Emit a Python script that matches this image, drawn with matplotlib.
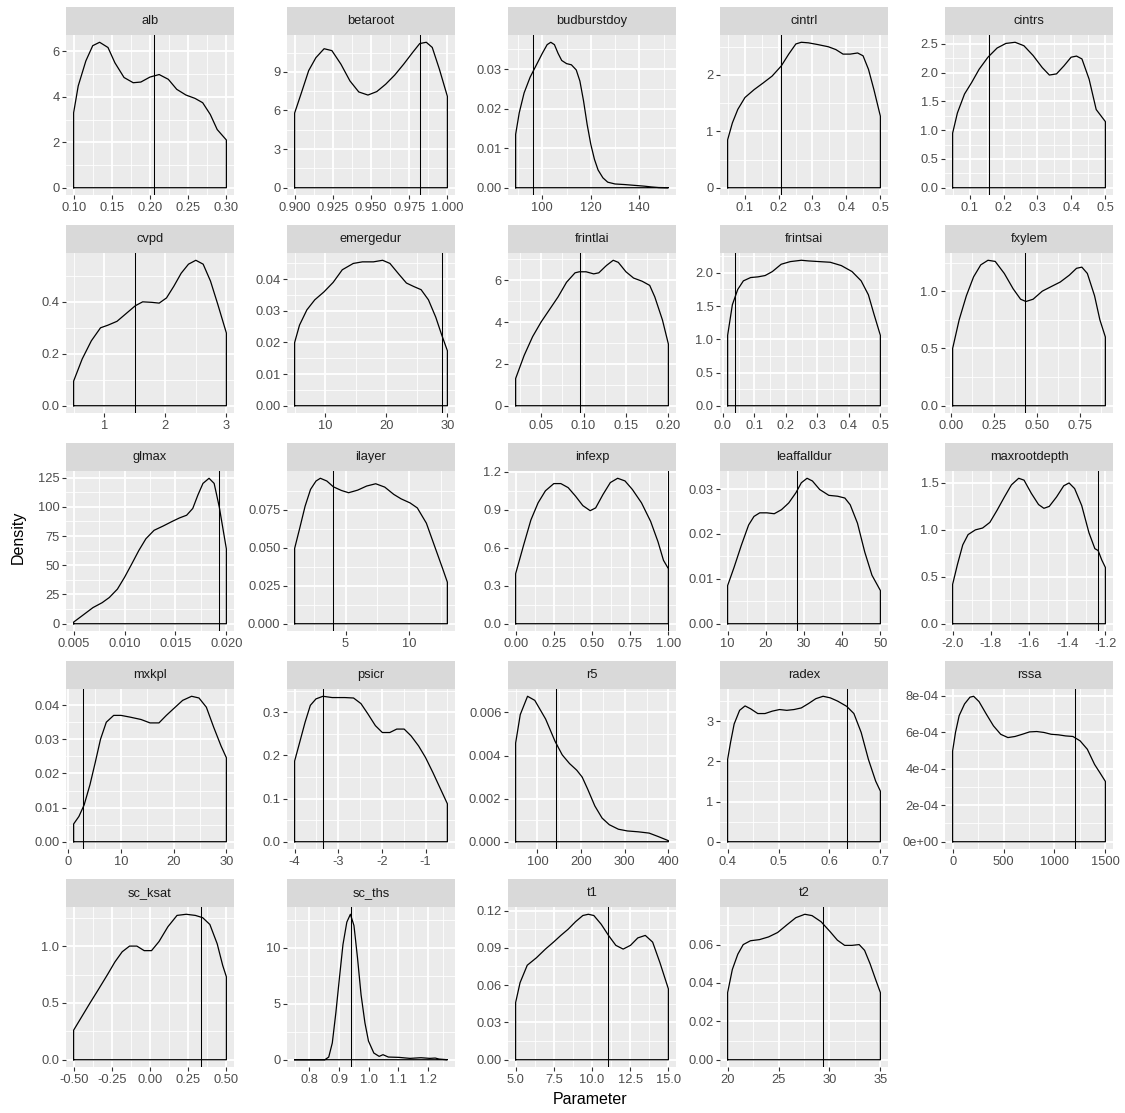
import matplotlib
matplotlib.use("Agg")
import matplotlib.pyplot as plt
import numpy as np

plt.rcParams["font.family"] = ["Liberation Sans", "DejaVu Sans"]

params = ["alb", "betaroot", "budburstdoy", "cintrl", "cintrs",
          "cvpd", "emergedur", "frintlai", "frintsai", "fxylem",
          "glmax", "ilayer", "infexp", "leaffalldur", "maxrootdepth",
          "mxkpl", "psicr", "r5", "radex", "rssa",
          "sc_ksat", "sc_ths", "t1", "t2"]

# density curves
alb_x = [0.100, 0.106, 0.116, 0.125, 0.134, 0.145, 0.154, 0.166, 0.178, 0.188, 0.200, 0.212,
         0.224, 0.235, 0.247, 0.259, 0.269, 0.279, 0.288, 0.300]
alb_y = [3.3, 4.48, 5.58, 6.25, 6.4, 6.17, 5.5, 4.85, 4.62, 4.65, 4.87, 4.98,
         4.77, 4.33, 4.08, 3.93, 3.74, 3.22, 2.56, 2.1]

betaroot_x = [0.900, 0.9045, 0.9092, 0.9139, 0.9193, 0.9244, 0.9303, 0.9362, 0.942, 0.948, 0.9538,
              0.9596, 0.9655, 0.9714, 0.9772, 0.9819, 0.9862, 0.9901, 0.9948, 1.000]
betaroot_y = [5.8, 7.4, 9.1, 10.1, 10.8, 10.65, 9.6, 8.3, 7.44, 7.2, 7.47,
              8.04, 8.75, 9.6, 10.5, 11.2, 11.3, 10.9, 9.2, 7.1]

budburstdoy_x = [89, 90.5, 92.5, 95, 97.5, 100, 102, 103.5, 105, 106.5, 108, 110, 112, 114, 115.5,
                 117, 118.5, 120, 121.5, 123, 125, 127, 130, 134, 138, 142, 145, 148, 152]
budburstdoy_y = [0.0135, 0.019, 0.024, 0.028, 0.031, 0.034, 0.0362, 0.0368, 0.0362, 0.034, 0.0322,
                 0.0314, 0.0311, 0.0298, 0.027, 0.022, 0.016, 0.011, 0.0072, 0.0045, 0.0025,
                 0.0014, 0.00095, 0.0008, 0.0006, 0.0004, 0.0002, 0.00005, 0.0]

cintrl_x = [0.05, 0.064, 0.08, 0.101, 0.128, 0.155, 0.181, 0.208, 0.23, 0.251, 0.267, 0.288,
            0.315, 0.347, 0.369, 0.39, 0.411, 0.433, 0.449, 0.465, 0.481, 0.5]
cintrl_y = [0.85, 1.15, 1.39, 1.6, 1.74, 1.86, 1.98, 2.16, 2.37, 2.55, 2.58, 2.57,
            2.54, 2.5, 2.45, 2.37, 2.37, 2.39, 2.34, 2.1, 1.74, 1.27]

cintrs_x = [0.05, 0.064, 0.085, 0.106, 0.128, 0.154, 0.181, 0.207, 0.234, 0.26, 0.287, 0.314,
            0.335, 0.356, 0.378, 0.399, 0.415, 0.431, 0.452, 0.473, 0.5]
cintrs_y = [0.95, 1.3, 1.63, 1.83, 2.06, 2.27, 2.43, 2.51, 2.53, 2.47, 2.3, 2.09,
            1.96, 1.98, 2.12, 2.27, 2.29, 2.24, 1.89, 1.36, 1.15]

cvpd_x = [0.5, 0.64, 0.79, 0.94, 1.06, 1.21, 1.36, 1.51, 1.63, 1.78, 1.9, 2.02, 2.14, 2.26,
          2.38, 2.5, 2.62, 2.74, 2.86, 3.0]
cvpd_y = [0.095, 0.18, 0.25, 0.3, 0.31, 0.325, 0.355, 0.385, 0.4, 0.398, 0.395, 0.415, 0.46,
          0.51, 0.545, 0.56, 0.545, 0.48, 0.39, 0.28]

emergedur_x = [5, 5.8, 7.0, 8.3, 9.8, 11.3, 12.8, 14.6, 16.1, 17.9, 19.4, 20.6, 22.1, 23.3,
               24.5, 25.7, 26.9, 28.1, 29.0, 30]
emergedur_y = [0.020, 0.0255, 0.0303, 0.0335, 0.036, 0.039, 0.043, 0.045, 0.0455, 0.0455, 0.046,
               0.045, 0.0415, 0.0388, 0.0377, 0.0367, 0.0335, 0.028, 0.0228, 0.0174]

frintlai_x = [0.02, 0.03, 0.04, 0.05, 0.06, 0.07, 0.08, 0.09, 0.095, 0.103, 0.112, 0.118, 0.127,
              0.135, 0.141, 0.15, 0.159, 0.169, 0.178, 0.184, 0.193, 0.2]
frintlai_y = [1.3, 2.4, 3.3, 4.0, 4.6, 5.2, 5.9, 6.35, 6.4, 6.4, 6.3, 6.35, 6.7,
              6.95, 6.85, 6.4, 6.1, 5.95, 5.75, 5.2, 4.1, 2.95]

frintsai_x = [0.015, 0.03, 0.047, 0.065, 0.088, 0.111, 0.134, 0.157, 0.185, 0.214, 0.249, 0.272,
              0.306, 0.341, 0.376, 0.41, 0.439, 0.462, 0.479, 0.5]
frintsai_y = [1.06, 1.52, 1.75, 1.88, 1.93, 1.94, 1.96, 2.02, 2.13, 2.17, 2.19, 2.18,
              2.17, 2.16, 2.11, 2.02, 1.88, 1.67, 1.39, 1.06]

fxylem_x = [0.01, 0.048, 0.09, 0.132, 0.174, 0.216, 0.258, 0.311, 0.363, 0.406, 0.437, 0.479,
            0.532, 0.584, 0.637, 0.69, 0.732, 0.763, 0.795, 0.837, 0.868, 0.9]
fxylem_y = [0.5, 0.75, 0.96, 1.125, 1.23, 1.27, 1.26, 1.155, 1.02, 0.93, 0.91, 0.93,
            1.0, 1.04, 1.08, 1.14, 1.2, 1.21, 1.155, 0.96, 0.75, 0.6]

glmax_x = [0.005, 0.0058, 0.0069, 0.0078, 0.0085, 0.0093, 0.0100, 0.0107, 0.0114, 0.0121, 0.0129,
           0.0138, 0.0147, 0.0154, 0.0161, 0.0167, 0.0172, 0.0177, 0.0183, 0.0188, 0.0193, 0.0200]
glmax_y = [1.4, 6.6, 13.8, 18, 22.4, 29.6, 39.7, 51, 62.6, 72.7, 79.9,
           83.6, 87.6, 90.5, 92.8, 98.6, 110, 120, 124.4, 120, 100, 64]

ilayer_x = [1, 1.4, 1.82, 2.25, 2.68, 3.02, 3.53, 4.04, 4.67, 5.24, 5.95, 6.66, 7.37, 8.08,
            8.79, 9.36, 10.07, 10.64, 11.35, 12.06, 12.63, 13]
ilayer_y = [0.0495, 0.0628, 0.0772, 0.0883, 0.0938, 0.0956, 0.0938, 0.09, 0.0876, 0.0861, 0.0878,
            0.0905, 0.092, 0.0898, 0.085, 0.0821, 0.0794, 0.0761, 0.0661, 0.0495, 0.0362, 0.0273]

infexp_x = [0.0, 0.052, 0.1, 0.147, 0.195, 0.25, 0.296, 0.344, 0.392, 0.44, 0.488, 0.524, 0.572,
            0.62, 0.668, 0.716, 0.764, 0.824, 0.884, 0.932, 0.968, 1.0]
infexp_y = [0.395, 0.62, 0.82, 0.955, 1.05, 1.107, 1.107, 1.075, 1.008, 0.933, 0.893, 0.915,
            1.021, 1.115, 1.149, 1.128, 1.061, 0.955, 0.808, 0.648, 0.501, 0.435]

leaffalldur_x = [10, 11.7, 13.6, 15.5, 16.9, 18.4, 20.3, 22.2, 24.1, 26, 27.9, 29.3, 30.8,
                 32.2, 34.1, 36.5, 38.8, 40.7, 42.1, 44, 45.9, 47.8, 50]
leaffalldur_y = [0.0085, 0.0126, 0.0175, 0.022, 0.0239, 0.0247, 0.0247, 0.0245, 0.0254, 0.0269,
                 0.0292, 0.0314, 0.0324, 0.0318, 0.0299, 0.0286, 0.0284, 0.028, 0.0265, 0.0224,
                 0.016, 0.0108, 0.0074]

maxrootdepth_x = [-2.0, -1.975, -1.947, -1.919, -1.881, -1.843, -1.805, -1.767, -1.729, -1.692,
                  -1.654, -1.626, -1.588, -1.55, -1.522, -1.494, -1.456, -1.418, -1.39, -1.361,
                  -1.324, -1.286, -1.255, -1.238, -1.219, -1.2]
maxrootdepth_y = [0.42, 0.63, 0.84, 0.95, 1.0, 1.02, 1.08, 1.21, 1.35, 1.48,
                  1.55, 1.53, 1.39, 1.27, 1.23, 1.25, 1.35, 1.47, 1.5, 1.44,
                  1.26, 0.97, 0.8, 0.78, 0.68, 0.6]

mxkpl_x = [1.0, 2.0, 3.0, 4.1, 5.1, 6.1, 7.2, 8.6, 10, 11.7, 13.8, 15.5, 17.2, 18.6, 20,
           21.7, 23.4, 24.8, 26.2, 27.6, 29, 30]
mxkpl_y = [0.0052, 0.0074, 0.0108, 0.0167, 0.0232, 0.03, 0.035, 0.037, 0.037, 0.0365, 0.0358,
           0.0348, 0.0348, 0.037, 0.039, 0.0414, 0.0426, 0.0421, 0.0394, 0.0335, 0.028, 0.0246]

psicr_x = [-4, -3.885, -3.76, -3.64, -3.51, -3.35, -3.14, -2.85, -2.65, -2.48, -2.32, -2.15,
           -1.99, -1.82, -1.66, -1.49, -1.33, -1.16, -1.0, -0.83, -0.67, -0.5]
psicr_y = [0.187, 0.23, 0.277, 0.316, 0.331, 0.337, 0.334, 0.334, 0.333, 0.32, 0.296, 0.269,
           0.253, 0.253, 0.261, 0.261, 0.245, 0.222, 0.195, 0.16, 0.125, 0.088]

r5_x = [50, 60.6, 77.3, 93.9, 118.8, 140.3, 156.8, 173.4, 190, 202.5, 214.9, 231.5, 248,
        264.6, 285.5, 306.2, 331.1, 356, 376.8, 400]
r5_y = [0.00458, 0.0059, 0.00675, 0.00656, 0.00569, 0.00466, 0.00403, 0.00363, 0.00332, 0.003,
        0.00245, 0.00166, 0.0011, 0.00079, 0.00058, 0.0005, 0.00046, 0.0004, 0.00024, 0.00005]

radex_x = [0.4, 0.4057, 0.4128, 0.4235, 0.4342, 0.4449, 0.4592, 0.4734, 0.4877, 0.502, 0.5162,
           0.5305, 0.5447, 0.559, 0.5732, 0.5875, 0.6017, 0.616, 0.6338, 0.648, 0.6623, 0.6765,
           0.6907, 0.7]
radex_y = [2.05, 2.47, 2.93, 3.27, 3.38, 3.31, 3.19, 3.19, 3.25, 3.29, 3.27,
           3.29, 3.33, 3.44, 3.56, 3.62, 3.58, 3.5, 3.37, 3.19, 2.72, 2.05, 1.51, 1.26]

rssa_x = [0, 28, 64, 117, 170, 206, 259, 330, 401, 472, 543, 613, 684, 755, 826, 897, 968,
          1039, 1110, 1181, 1252, 1323, 1394, 1447, 1500]
rssa_y = [0.000497, 0.000598, 0.00069, 0.000754, 0.000791, 0.000796, 0.000767, 0.000699,
          0.000634, 0.000588, 0.00057, 0.000576, 0.000588, 0.000601, 0.000603, 0.000598,
          0.000588, 0.000585, 0.000579, 0.000576, 0.000552, 0.000506, 0.000423, 0.000377, 0.00033]

sc_ksat_x = [-0.5, -0.457, -0.397, -0.337, -0.278, -0.23, -0.182, -0.134, -0.086, -0.038, 0.01,
             0.059, 0.117, 0.177, 0.237, 0.297, 0.345, 0.392, 0.44, 0.476, 0.5]
sc_ksat_y = [0.26, 0.356, 0.49, 0.62, 0.75, 0.86, 0.95, 1.0, 1.0, 0.96, 0.96,
             1.04, 1.17, 1.27, 1.28, 1.27, 1.25, 1.19, 1.02, 0.83, 0.73]

sc_ths_x = [0.75, 0.852, 0.865, 0.877, 0.889, 0.901, 0.913, 0.926, 0.938, 0.95, 0.962, 0.974,
            0.987, 0.999, 1.017, 1.035, 1.048, 1.066, 1.102, 1.139, 1.176, 1.206, 1.224, 1.237, 1.265]
sc_ths_y = [0.0, 0.0, 0.24, 1.5, 4.2, 7.3, 10.3, 12.3, 13.0, 12.0, 9.1, 5.8,
            3.3, 1.67, 0.6, 0.3, 0.45, 0.24, 0.21, 0.12, 0.18, 0.12, 0.15, 0.06, 0.0]

t1_x = [5.0, 5.29, 5.76, 6.36, 6.95, 7.48, 7.96, 8.44, 8.92, 9.4, 9.76, 10.12, 10.6, 11.08,
        11.56, 12.04, 12.52, 13.0, 13.49, 13.97, 14.45, 15.0]
t1_y = [0.046, 0.062, 0.076, 0.082, 0.089, 0.0946, 0.1, 0.105, 0.111, 0.116, 0.117, 0.116, 0.109,
        0.1, 0.092, 0.089, 0.092, 0.098, 0.1, 0.0946, 0.078, 0.057]

t2_x = [20, 20.46, 21, 21.53, 22.24, 23.13, 24.02, 24.91, 25.8, 26.69, 27.58, 28.29, 29.18,
        30.07, 30.78, 31.49, 32.21, 32.92, 33.45, 33.99, 34.52, 35]
t2_y = [0.035, 0.047, 0.055, 0.06, 0.062, 0.0626, 0.064, 0.0663, 0.0702, 0.074, 0.0758, 0.0751,
        0.0719, 0.0667, 0.0623, 0.0596, 0.0596, 0.06, 0.057, 0.05, 0.042, 0.035]

# reference value of each parameter (vertical line)
vlines = [0.205, 0.9824, 96, 0.208, 0.156,
          1.5, 29.1, 0.0956, 0.038, 0.431,
          0.0193, 4.04, 1.0, 28.1, -1.238,
          2.7, -3.35, 143, 0.634, 1206,
          0.337, 0.94, 11.03, 29.36]

x_ticks = [["0.10", "0.15", "0.20", "0.25", "0.30"],
           ["0.900", "0.925", "0.950", "0.975", "1.000"],
           ["100", "120", "140"],
           ["0.1", "0.2", "0.3", "0.4", "0.5"],
           ["0.1", "0.2", "0.3", "0.4", "0.5"],
           ["1", "2", "3"],
           ["10", "20", "30"],
           ["0.05", "0.10", "0.15", "0.20"],
           ["0.0", "0.1", "0.2", "0.3", "0.4", "0.5"],
           ["0.00", "0.25", "0.50", "0.75"],
           ["0.005", "0.010", "0.015", "0.020"],
           ["5", "10"],
           ["0.00", "0.25", "0.50", "0.75", "1.00"],
           ["10", "20", "30", "40", "50"],
           ["-2.0", "-1.8", "-1.6", "-1.4", "-1.2"],
           ["0", "10", "20", "30"],
           ["-4", "-3", "-2", "-1"],
           ["100", "200", "300", "400"],
           ["0.4", "0.5", "0.6", "0.7"],
           ["0", "500", "1000", "1500"],
           ["-0.50", "-0.25", "0.00", "0.25", "0.50"],
           ["0.8", "0.9", "1.0", "1.1", "1.2"],
           ["5.0", "7.5", "10.0", "12.5", "15.0"],
           ["20", "25", "30", "35"]]

y_ticks = [["0", "2", "4", "6"],
           ["0", "3", "6", "9"],
           ["0.00", "0.01", "0.02", "0.03"],
           ["0", "1", "2"],
           ["0.0", "0.5", "1.0", "1.5", "2.0", "2.5"],
           ["0.0", "0.2", "0.4"],
           ["0.00", "0.01", "0.02", "0.03", "0.04"],
           ["0", "2", "4", "6"],
           ["0.0", "0.5", "1.0", "1.5", "2.0"],
           ["0.0", "0.5", "1.0"],
           ["0", "25", "50", "75", "100", "125"],
           ["0.000", "0.025", "0.050", "0.075"],
           ["0.0", "0.3", "0.6", "0.9", "1.2"],
           ["0.00", "0.01", "0.02", "0.03"],
           ["0.0", "0.5", "1.0", "1.5"],
           ["0.00", "0.01", "0.02", "0.03", "0.04"],
           ["0.0", "0.1", "0.2", "0.3"],
           ["0.000", "0.002", "0.004", "0.006"],
           ["0", "1", "2", "3"],
           ["0e+00", "2e-04", "4e-04", "6e-04", "8e-04"],
           ["0.0", "0.5", "1.0"],
           ["0", "5", "10"],
           ["0.00", "0.03", "0.06", "0.09", "0.12"],
           ["0.00", "0.02", "0.04", "0.06"]]

curves = {name: (globals()[name + "_x"], globals()[name + "_y"]) for name in params}


def minor_ticks(major, lo, hi):
    step = major[1] - major[0]
    ext = [major[0] - step] + list(major) + [major[-1] + step]
    mids = [(a + b) / 2 for a, b in zip(ext[:-1], ext[1:])]
    return [m for m in mids if lo <= m <= hi]


W, H = 1125, 1113
fig = plt.figure(figsize=(W / 100, H / 100), dpi=100)
col_left = [66, 287, 508, 720, 945]
pw, ph, sh = 168, 160, 28

for i, name in enumerate(params):
    r, c = divmod(i, 5)
    top = 35 + 218 * r
    ax = fig.add_axes([col_left[c] / W, 1 - (top + ph) / H, pw / W, ph / H])
    sax = fig.add_axes([col_left[c] / W, 1 - top / H, pw / W, sh / H])

    xs, ys = curves[name]
    xlo = min(min(xs), vlines[i])
    xhi = max(max(xs), vlines[i])
    dx = (xhi - xlo) * 0.05
    ymax = max(ys)
    ax.set_xlim(xlo - dx, xhi + dx)
    ax.set_ylim(-0.05 * ymax, 1.05 * ymax)

    ax.set_facecolor("#EBEBEB")
    for s in ax.spines.values():
        s.set_visible(False)

    xt = [float(t) for t in x_ticks[i]]
    yt = [float(t) for t in y_ticks[i]]
    ax.set_xticks(xt)
    ax.set_xticklabels(x_ticks[i])
    ax.set_yticks(yt)
    ax.set_yticklabels(y_ticks[i])
    ax.set_xticks(minor_ticks(xt, xlo - dx, xhi + dx), minor=True)
    ax.set_yticks(minor_ticks(yt, -0.05 * ymax, 1.05 * ymax), minor=True)
    ax.grid(True, which="major", color="white", lw=1.3)
    ax.grid(True, which="minor", color="white", lw=0.6)
    ax.set_axisbelow(True)
    ax.tick_params(which="major", length=2.7, width=0.8, color="#333333",
                   labelcolor="#4D4D4D", labelsize=9.3, pad=2.0)
    ax.tick_params(which="minor", length=0)

    # density outline closed down to zero at both ends
    px = [xs[0]] + list(xs) + [xs[-1], xs[0]]
    py = [0] + list(ys) + [0, 0]
    ax.plot(px, py, color="black", lw=0.9, solid_joinstyle="round")
    ax.axvline(vlines[i], color="black", lw=0.75)

    sax.set_facecolor("#D9D9D9")
    sax.set_xticks([])
    sax.set_yticks([])
    for s in sax.spines.values():
        s.set_visible(False)
    sax.text(0.5, 0.5, name, ha="center", va="center", fontsize=9.3,
             color="#1A1A1A", transform=sax.transAxes)

fig.text(18 / W, 1 - 537 / H, "Density", rotation=90, ha="center", va="center",
         fontsize=11.5, color="black")
fig.text(590 / W, 1 - 1100 / H, "Parameter", ha="center", va="center",
         fontsize=11.5, color="black")

fig.savefig("out.png", dpi=100, facecolor="white")
